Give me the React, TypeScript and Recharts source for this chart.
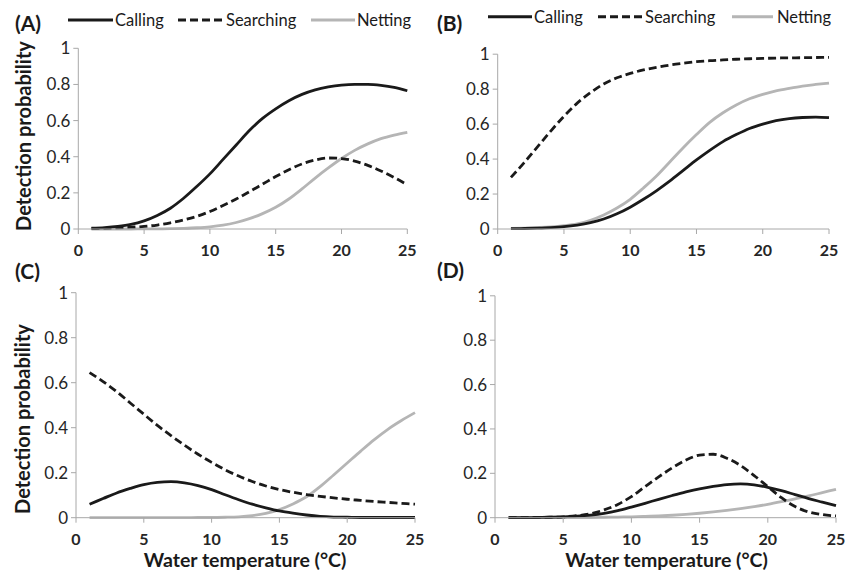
import React from 'react';
import { LineChart, Line, XAxis, YAxis } from 'recharts';

const temps = [1,2,3,4,5,6,7,8,9,10,11,12,13,14,15,16,17,18,19,20,21,22,23,24,25];
const xTicks = [0,5,10,15,20,25];
const yTicks = [0,0.2,0.4,0.6,0.8,1];

const aCalling = [0.005,0.008,0.014,0.025,0.045,0.075,0.115,0.17,0.235,0.305,0.385,0.465,0.545,0.612,0.665,0.71,0.745,0.77,0.786,0.796,0.8,0.8,0.795,0.784,0.765];
const aSearching = [0.002,0.004,0.007,0.01,0.014,0.022,0.034,0.05,0.07,0.097,0.13,0.166,0.206,0.248,0.29,0.328,0.36,0.382,0.393,0.39,0.376,0.352,0.321,0.285,0.245];
const aNetting = [0,0,0,0,0.001,0.001,0.002,0.004,0.007,0.012,0.021,0.036,0.057,0.085,0.12,0.166,0.222,0.282,0.338,0.39,0.435,0.471,0.5,0.52,0.535];

const bCalling = [0.002,0.003,0.005,0.008,0.013,0.022,0.036,0.057,0.087,0.125,0.17,0.22,0.275,0.335,0.395,0.45,0.5,0.54,0.575,0.6,0.62,0.632,0.638,0.64,0.637];
const bSearching = [0.295,0.38,0.47,0.56,0.645,0.72,0.78,0.83,0.865,0.89,0.91,0.925,0.938,0.948,0.957,0.963,0.967,0.971,0.974,0.976,0.978,0.979,0.98,0.981,0.982];
const bNetting = [0.003,0.005,0.008,0.012,0.019,0.03,0.05,0.08,0.12,0.17,0.235,0.305,0.385,0.465,0.54,0.61,0.665,0.71,0.745,0.77,0.79,0.805,0.818,0.827,0.835];

const cCalling = [0.06,0.085,0.11,0.13,0.147,0.157,0.16,0.155,0.143,0.125,0.102,0.08,0.06,0.044,0.03,0.02,0.012,0.006,0.003,0.002,0.001,0.001,0.001,0.001,0.001];
const cSearching = [0.645,0.605,0.56,0.51,0.46,0.41,0.365,0.322,0.282,0.246,0.213,0.185,0.161,0.141,0.125,0.113,0.103,0.095,0.088,0.082,0.077,0.072,0.068,0.064,0.06];
const cNetting = [0,0,0,0,0,0,0,0,0.001,0.001,0.002,0.004,0.009,0.019,0.036,0.061,0.093,0.138,0.19,0.243,0.296,0.347,0.393,0.432,0.467];

const dCalling = [0,0,0.001,0.002,0.004,0.007,0.012,0.02,0.032,0.048,0.065,0.083,0.1,0.116,0.13,0.141,0.149,0.152,0.148,0.137,0.122,0.104,0.086,0.07,0.054];
const dSearching = [0,0,0.001,0.002,0.004,0.009,0.018,0.035,0.06,0.095,0.14,0.184,0.225,0.26,0.282,0.286,0.268,0.235,0.19,0.14,0.09,0.05,0.026,0.014,0.008];
const dNetting = [0,0,0,0,0.001,0.001,0.001,0.002,0.003,0.004,0.006,0.008,0.011,0.015,0.02,0.026,0.033,0.041,0.05,0.06,0.072,0.085,0.098,0.113,0.128];

const seriesNames = ['Calling', 'Searching', 'Netting'];

const BLACK = '#1a1a1a';
const GRAY = '#b5b5b5';
const AXIS = '#a8a8a8';
const FONT = 'Lato, "Open Sans", sans-serif';

function rows(c: number[], s: number[], n: number[]) {
  return temps.map((t, i) => ({ t, calling: c[i], searching: s[i], netting: n[i] }));
}

type PanelProps = {
  data: any[];
  margin: { top: number; left: number; right: number; bottom: number };
};

function Panel({ data, margin }: PanelProps) {
  return (
    <div style={{ position: 'absolute', left: 0, top: 0 }}>
      <LineChart width={850} height={573} data={data} margin={margin}>
        <XAxis
          dataKey="t"
          type="number"
          domain={[0, 25]}
          ticks={xTicks}
          height={30}
          stroke={AXIS}
          tickSize={5}
          tickMargin={11}
          tickLine={{ stroke: AXIS }}
          tick={{ fill: '#262626', fontSize: 16, fontWeight: 700, fontFamily: FONT }}
          interval={0}
        />
        <YAxis
          type="number"
          domain={[0, 1]}
          ticks={yTicks}
          width={40}
          stroke={AXIS}
          tickSize={5}
          tickMargin={3}
          tickLine={{ stroke: AXIS }}
          tick={{ fill: '#262626', fontSize: 17, fontFamily: FONT }}
          interval={0}
        />
        <Line type="monotone" dataKey="netting" stroke={GRAY} strokeWidth={2.8} dot={false} isAnimationActive={false} />
        <Line type="monotone" dataKey="searching" stroke={BLACK} strokeWidth={2.8} strokeDasharray="8 4" dot={false} isAnimationActive={false} />
        <Line type="monotone" dataKey="calling" stroke={BLACK} strokeWidth={2.8} dot={false} isAnimationActive={false} />
      </LineChart>
    </div>
  );
}

function LegendRow({ y, xs }: { y: number; xs: number[][] }) {
  const styles = [
    { stroke: BLACK, dash: undefined },
    { stroke: BLACK, dash: '8 4' },
    { stroke: GRAY, dash: undefined },
  ];
  return (
    <g>
      {seriesNames.map((name, i) => (
        <g key={name}>
          <line x1={xs[i][0]} x2={xs[i][1]} y1={y} y2={y} stroke={styles[i].stroke} strokeWidth={3} strokeDasharray={styles[i].dash} />
          <text x={xs[i][2]} y={y + 6.3} fontSize={16.5} fontFamily={FONT} fill="#1a1a1a">{name}</text>
        </g>
      ))}
    </g>
  );
}

export default function App() {
  return (
    <div style={{ position: 'absolute', left: 0, top: 0, width: 850, height: 573, background: '#fff', overflow: 'hidden' }}>
      <Panel data={rows(aCalling, aSearching, aNetting)} margin={{ top: 48.3, left: 38.3, right: 442.7, bottom: 314 }} />
      <Panel data={rows(bCalling, bSearching, bNetting)} margin={{ top: 54.2, left: 457.7, right: 21, bottom: 314 }} />
      <Panel data={rows(cCalling, cSearching, cNetting)} margin={{ top: 292.7, left: 36, right: 435, bottom: 25.3 }} />
      <Panel data={rows(dCalling, dSearching, dNetting)} margin={{ top: 295.8, left: 455, right: 14, bottom: 25.3 }} />
      <svg width={850} height={573} style={{ position: 'absolute', left: 0, top: 0 }}>
        <LegendRow y={20} xs={[[68, 113, 115], [178, 224, 226], [311, 355, 357]]} />
        <LegendRow y={16.7} xs={[[488, 532, 534], [598, 643, 645], [732, 773, 777]]} />
        <text x={15} y={31} fontSize={21} fontWeight={700} fontFamily={FONT} fill="#1a1a1a">(A)</text>
        <text x={437} y={31} fontSize={21} fontWeight={700} fontFamily={FONT} fill="#1a1a1a">(B)</text>
        <text x={15} y={279} fontSize={21} fontWeight={700} fontFamily={FONT} fill="#1a1a1a">(C)</text>
        <text x={437} y={278} fontSize={21} fontWeight={700} fontFamily={FONT} fill="#1a1a1a">(D)</text>
        <text transform="translate(23,136) rotate(-90)" textAnchor="middle" dominantBaseline="central" fontSize={20} fontWeight={700} fontFamily={FONT} fill="#1a1a1a">Detection probability</text>
        <text transform="translate(22,419) rotate(-90)" textAnchor="middle" dominantBaseline="central" fontSize={20} fontWeight={700} fontFamily={FONT} fill="#1a1a1a">Detection probability</text>
        <text x={245} y={567} textAnchor="middle" fontSize={19.5} fontWeight={700} fontFamily={FONT} fill="#1a1a1a">Water temperature (°C)</text>
        <text x={666.5} y={567} textAnchor="middle" fontSize={19.5} fontWeight={700} fontFamily={FONT} fill="#1a1a1a">Water temperature (°C)</text>
      </svg>
    </div>
  );
}
